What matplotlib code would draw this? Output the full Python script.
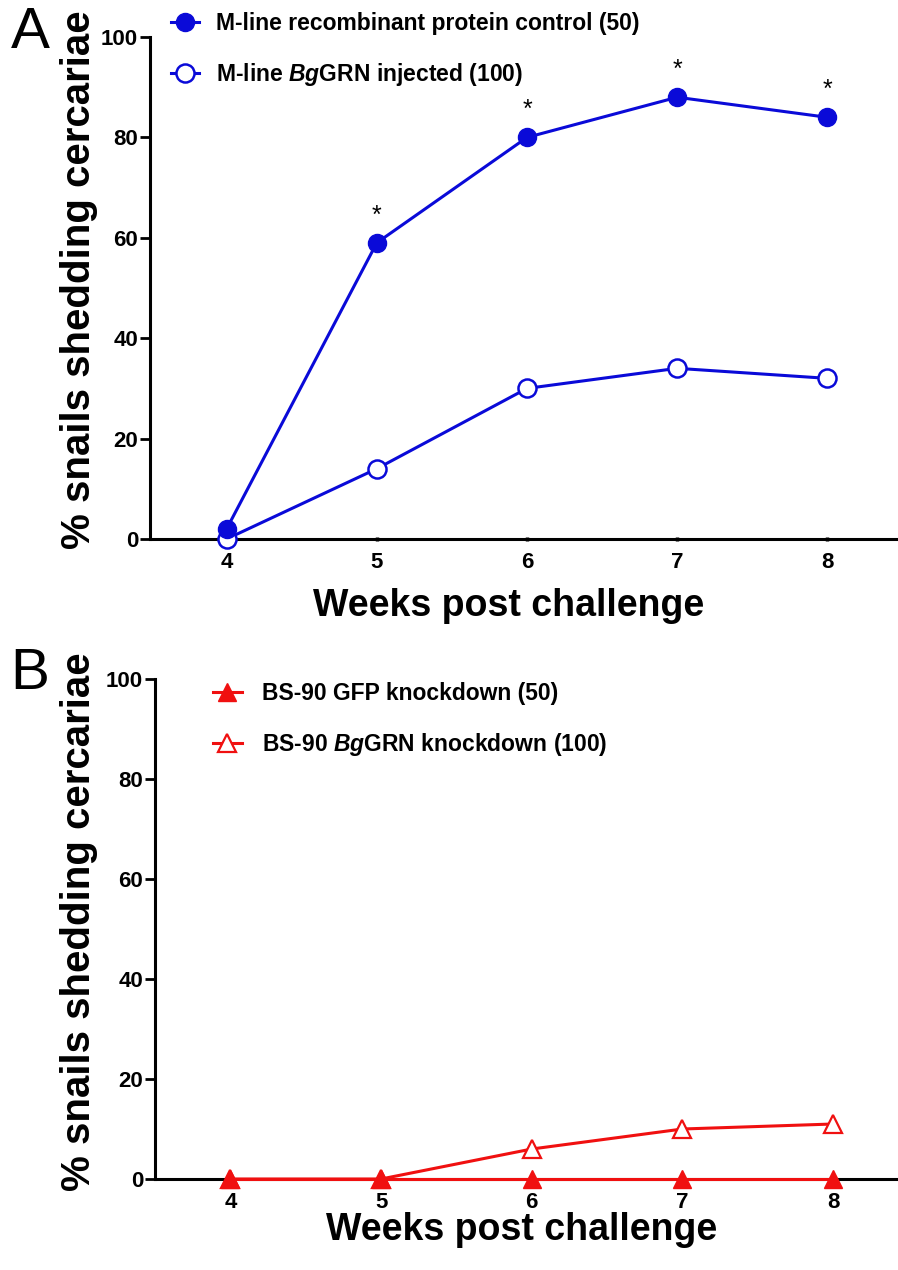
import matplotlib
matplotlib.use("Agg")
import matplotlib.pyplot as plt
from matplotlib.lines import Line2D

plt.rcParams['font.family'] = ['Liberation Sans', 'DejaVu Sans']
plt.rcParams['font.weight'] = 'bold'
plt.rcParams['mathtext.fontset'] = 'custom'
plt.rcParams['mathtext.rm'] = 'Liberation Sans:bold'
plt.rcParams['mathtext.bf'] = 'Liberation Sans:bold'
plt.rcParams['mathtext.it'] = 'Liberation Sans:italic:bold'

# data
weeks = [4, 5, 6, 7, 8]
mline_control = [2, 59, 80, 88, 84]
mline_grn = [0, 14, 30, 34, 32]
sig_weeks = [5, 6, 7, 8]
sig_values = [59, 80, 88, 84]
bs90_gfp = [0, 0, 0, 0, 0]
bs90_grn = [0, 0, 6, 10, 11]

label_a1 = "M-line recombinant protein control (50)"
label_a2 = r"M-line $\it{Bg}$GRN injected (100)"
label_b1 = "BS-90 GFP knockdown (50)"
label_b2 = r"BS-90 $\it{Bg}$GRN knockdown (100)"

blue = "#0a0ad8"
red = "#f01010"

fig = plt.figure(figsize=(8.98, 12.70), dpi=100)
axA = fig.add_axes([150/898, 1-539/1270, 1-150/898, (539-37)/1270])
axB = fig.add_axes([155/898, 1-1179/1270, 1-155/898, (1179-679)/1270])


def style(ax, xmin, xmax):
    ax.set_xlim(xmin, xmax)
    ax.set_ylim(0, 100)
    ax.set_xticks(weeks)
    ax.set_yticks([0, 20, 40, 60, 80, 100])
    for s in ['top', 'right']:
        ax.spines[s].set_visible(False)
    for s in ['left', 'bottom']:
        ax.spines[s].set_linewidth(2.2)
    ax.tick_params(axis='y', length=7, width=2, labelsize=16, pad=1.5)
    ax.tick_params(axis='x', length=3, width=2.5, direction='inout', labelsize=16, pad=8)
    for t in ax.get_xticklabels() + ax.get_yticklabels():
        t.set_fontweight('bold')


# panel A
axA.plot(weeks, mline_grn, '-o', color=blue, lw=2.2, ms=13, mfc='white', mew=1.8, clip_on=False, zorder=3)
axA.plot(weeks, mline_control, '-o', color=blue, lw=2.2, ms=13, clip_on=False, zorder=4)
for w, v in zip(sig_weeks, sig_values):
    axA.text(w, v + 3, "*", ha='center', va='bottom', fontsize=18, fontweight='normal')
style(axA, 3.49, 8.47)

# panel B
axB.plot(weeks, bs90_grn, '-^', color=red, lw=2.2, ms=13, mfc='white', mew=1.6, clip_on=False, zorder=3)
axB.plot(weeks, bs90_gfp, '-^', color=red, lw=2.2, ms=13, clip_on=False, zorder=4)
style(axB, 3.50, 8.43)

# legends
hA = [Line2D([], [], color=blue, marker='o', lw=2.2, ms=13),
      Line2D([], [], color=blue, marker='o', lw=2.2, ms=13, mfc='white', mew=1.8)]
fig.legend(hA, [label_a1, label_a2], loc='upper left', bbox_to_anchor=(171/898, 1-12/1270),
           frameon=False, fontsize=16.5, handlelength=1.2, handletextpad=0.75,
           labelspacing=1.15, borderpad=0, borderaxespad=0)
hB = [Line2D([], [], color=red, marker='^', lw=2.2, ms=13),
      Line2D([], [], color=red, marker='^', lw=2.2, ms=13, mfc='white', mew=1.6)]
fig.legend(hB, [label_b1, label_b2], loc='upper left', bbox_to_anchor=(213/898, 1-682/1270),
           frameon=False, fontsize=16.5, handlelength=1.25, handletextpad=0.9,
           labelspacing=1.15, borderpad=0, borderaxespad=0)

# axis labels
for yc in [280, 922]:
    fig.text(79/898, 1-yc/1270, "% snails shedding cercariae", rotation=90, ha='center', va='center',
             fontsize=29, fontweight='bold')
fig.text(509/898, 1-606/1270, "Weeks post challenge", ha='center', va='center',
         fontsize=27, fontweight='bold')
fig.text(522/898, 1-1230/1270, "Weeks post challenge", ha='center', va='center',
         fontsize=27, fontweight='bold')

# panel letters
fig.text(30/898, 1-33/1270, "A", ha='center', va='center', fontsize=42, fontweight='normal')
fig.text(30/898, 1-674/1270, "B", ha='center', va='center', fontsize=42, fontweight='normal')

fig.savefig("out.png", dpi=100)
